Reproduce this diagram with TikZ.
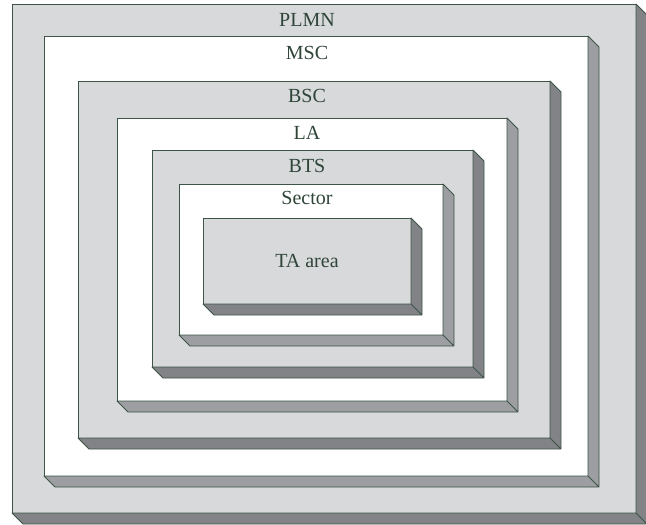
\documentclass[tikz,border=0pt]{standalone}
\usepackage{fontspec}
\setmainfont{Liberation Serif}
\usepackage{tikz}
\usetikzlibrary{calc,positioning}
\definecolor{edge}{HTML}{3E5446}
\definecolor{face}{HTML}{D8D9DB}
\definecolor{darkside}{HTML}{828387}
\definecolor{lightside}{HTML}{9D9EA2}
\definecolor{ink}{HTML}{2F4538}
\tikzset{box/.style={draw=edge, line width=0.8pt, inner sep=0pt, outer sep=0pt, anchor=north west},
  side/.style={draw=edge, line width=0.8pt, line join=round, fill=#1},
  lbl/.style={text=ink, anchor=base, inner sep=0pt, font=\fontsize{20}{24}\selectfont}}

\begin{document}
\begin{tikzpicture}[x=1pt, y=-1pt]
\useasboundingbox (0,0) rectangle (646,525);
% PLMN
\node[box, fill=face, minimum width=624pt, minimum height=509pt] (B0) at (12,4) {};
\filldraw[side=darkside] (B0.north east) -- ++(11,11) -- ($(B0.south east)+(11,11)$) -- (B0.south east) -- cycle
  (B0.south west) -- ++(11,11) -- ($(B0.south east)+(11,11)$) -- (B0.south east) -- cycle;
\node[lbl] (L0) at (307,26) {PLMN};
% MSC
\node[box, fill=white, minimum width=544pt, minimum height=440pt] (B1) at (44,36) {};
\filldraw[side=lightside] (B1.north east) -- ++(11,11) -- ($(B1.south east)+(11,11)$) -- (B1.south east) -- cycle
  (B1.south west) -- ++(11,11) -- ($(B1.south east)+(11,11)$) -- (B1.south east) -- cycle;
\node[lbl] (L1) at (307,59) {MSC};
% BSC
\node[box, fill=face, minimum width=472pt, minimum height=357pt] (B2) at (78,81) {};
\filldraw[side=darkside] (B2.north east) -- ++(11,11) -- ($(B2.south east)+(11,11)$) -- (B2.south east) -- cycle
  (B2.south west) -- ++(11,11) -- ($(B2.south east)+(11,11)$) -- (B2.south east) -- cycle;
\node[lbl] (L2) at (307,102) {BSC};
% LA
\node[box, fill=white, minimum width=390pt, minimum height=283pt] (B3) at (117,118) {};
\filldraw[side=lightside] (B3.north east) -- ++(11,11) -- ($(B3.south east)+(11,11)$) -- (B3.south east) -- cycle
  (B3.south west) -- ++(11,11) -- ($(B3.south east)+(11,11)$) -- (B3.south east) -- cycle;
\node[lbl] (L3) at (307,139) {LA};
% BTS
\node[box, fill=face, minimum width=321pt, minimum height=217pt] (B4) at (152,150) {};
\filldraw[side=darkside] (B4.north east) -- ++(11,11) -- ($(B4.south east)+(11,11)$) -- (B4.south east) -- cycle
  (B4.south west) -- ++(11,11) -- ($(B4.south east)+(11,11)$) -- (B4.south east) -- cycle;
\node[lbl] (L4) at (307,172) {BTS};
% Sector
\node[box, fill=white, minimum width=264pt, minimum height=151pt] (B5) at (179,184) {};
\filldraw[side=lightside] (B5.north east) -- ++(11,11) -- ($(B5.south east)+(11,11)$) -- (B5.south east) -- cycle
  (B5.south west) -- ++(11,11) -- ($(B5.south east)+(11,11)$) -- (B5.south east) -- cycle;
\node[lbl] (L5) at (307,204) {Sector};
% TA area
\node[box, fill=face, minimum width=208pt, minimum height=86pt] (B6) at (203,218) {};
\filldraw[side=darkside] (B6.north east) -- ++(11,11) -- ($(B6.south east)+(11,11)$) -- (B6.south east) -- cycle
  (B6.south west) -- ++(11,11) -- ($(B6.south east)+(11,11)$) -- (B6.south east) -- cycle;
\node[lbl] (L6) at (307,267) {TA area};
\end{tikzpicture}
\end{document}
